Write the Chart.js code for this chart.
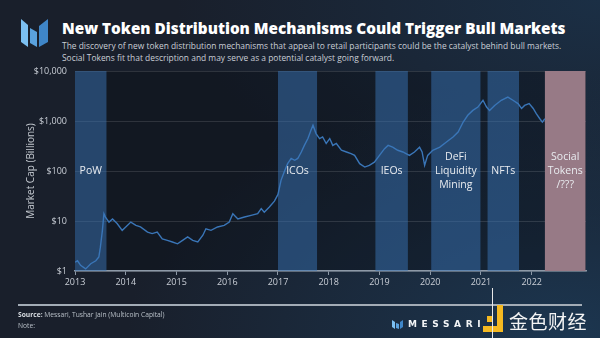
<!DOCTYPE html>
<html><head><meta charset="utf-8">
<script src="https://cdn.jsdelivr.net/npm/chart.js@4.4.1/dist/chart.umd.min.js"></script>
<style>
html,body{margin:0;padding:0;}
body{width:600px;height:338px;overflow:hidden;position:relative;
 background:radial-gradient(ellipse at 95% 100%, #1c3650 0%, rgba(28,54,80,0) 55%),
            radial-gradient(ellipse at 100% 0%, #1b2f45 0%, rgba(27,47,69,0) 50%),
            #191f2b;
 font-family:'Open Sans',sans-serif;color:#fff;}
#c{position:absolute;left:0;top:0;width:600px;height:338px;}
.abs{position:absolute;white-space:nowrap;}
#title{left:62px;top:18px;font-size:17px;font-weight:800;line-height:20px;color:#fff;font-family:'Open Sans',sans-serif;}
#sub{left:62px;top:40px;font-size:9.5px;line-height:11.5px;color:#c9ced6;font-weight:400;}
#footline{left:18px;top:304px;width:564px;height:1.5px;background:#a3acb6;}
#src{left:18px;top:311px;font-size:6.7px;color:#b9c0c8;line-height:8px;}
#note{left:18px;top:322px;font-size:6.7px;color:#b9c0c8;line-height:8px;}
#messari{left:408px;top:318px;font-size:9px;font-weight:800;letter-spacing:4.6px;color:#f2f4f6;font-family:'DejaVu Sans',sans-serif;line-height:12px;}
#jinse{left:509px;top:309px;font-size:19px;color:#f4f4f4;font-family:'Noto Sans CJK SC',sans-serif;line-height:24px;letter-spacing:0.5px;}
#vline{left:492px;top:288px;width:1px;height:50px;background:#e8e8e8;}
</style></head><body>
<svg class="abs" style="left:0;top:0" width="60" height="60">
 <polygon points="21,19 28,25 28,47 21,42" fill="#7cc0f2"/>
 <polygon points="30,28 37,32 37,47 30,43" fill="#5aa2de"/>
 <polygon points="39,26 48,19 48,42 39,47" fill="#3f86c8"/>
</svg>
<div id="title" class="abs"><span id="titleSpan">New Token Distribution Mechanisms Could Trigger Bull Markets</span></div>
<div id="sub" class="abs"><span id="sub1">The discovery of new token distribution mechanisms that appeal to retail participants could be the catalyst behind bull markets.</span><br><span>Social Tokens fit that description and may serve as a potential catalyst going forward.</span></div>
<canvas id="c" width="600" height="338"></canvas>
<div id="footline" class="abs"></div>
<div id="src" class="abs"><b style="color:#d8dde2">Source:</b> Messari, Tushar Jain (Multicoin Capital)</div>
<div id="note" class="abs">Note:</div>
<svg class="abs" style="left:392px;top:319px" width="12" height="10">
 <polygon points="0,1 3,3 3,10 0,8" fill="#7cc0f2"/>
 <polygon points="4,4 7,5 7,10 4,9" fill="#5aa2de"/>
 <polygon points="8,3 11,1 11,8 8,10" fill="#3f86c8"/>
</svg>
<div id="messari" class="abs">MESSARI</div>
<svg class="abs" style="left:482px;top:304px" width="24" height="30">
 <rect x="15" y="1" width="6" height="27" fill="#f5b921"/>
 <rect x="1" y="22" width="20" height="6" fill="#f5b921"/>
 <rect x="5" y="12" width="6" height="6" fill="#f5b921"/>
</svg>
<div id="vline" class="abs"></div>
<div id="jinse" class="abs">金色财经</div>
<script>
// ---- data ----
const years = [2013.00,2013.05,2013.11,2013.21,2013.31,2013.41,2013.47,2013.50,2013.54,2013.57,2013.60,2013.67,2013.74,2013.83,2013.93,
 2014.00,2014.10,2014.20,2014.29,2014.43,2014.52,2014.62,2014.72,2014.82,2014.92,
 2015.02,2015.12,2015.22,2015.32,2015.42,2015.52,2015.58,2015.68,2015.81,2015.94,
 2016.04,2016.11,2016.21,2016.34,2016.47,2016.60,2016.67,2016.73,2016.83,2016.93,
 2017.00,2017.06,2017.13,2017.19,2017.26,2017.33,2017.39,2017.46,2017.52,2017.59,2017.65,2017.69,2017.75,2017.82,2017.88,2017.95,
 2018.02,2018.08,2018.15,2018.25,2018.35,2018.44,2018.51,2018.61,2018.71,2018.80,2018.90,
 2019.00,2019.10,2019.17,2019.26,2019.36,2019.46,2019.59,2019.69,2019.79,2019.84,2019.89,2019.95,
 2020.05,2020.19,2020.32,2020.45,2020.55,2020.65,2020.74,2020.84,2020.94,
 2021.04,2021.11,2021.17,2021.27,2021.40,2021.53,2021.63,2021.73,2021.80,2021.86,2021.95,
 2022.03,2022.09,2022.16,2022.21,2022.26];
const marketCap = [1.5,1.6,1.3,1.1,1.4,1.6,1.9,3.0,6.5,14,12,9.5,11,8.9,6.5,
 7.6,9.5,8.2,7.6,6.0,5.6,6.0,4.4,4.1,3.8,
 3.5,4.1,4.8,4.1,3.8,5.2,7.0,6.5,7.6,8.2,
 9.5,14,11,12,13,14,17.7,15,19,25,
 34,65,100,140,178,164,178,240,325,445,650,820,560,445,480,355,
 445,325,355,260,240,222,205,140,120,130,150,
 205,280,325,300,260,240,205,240,300,240,130,205,
 260,300,380,480,600,955,1300,1630,1900,
 2600,1900,1630,2050,2600,3000,2600,2230,1780,2050,2230,
 1780,1400,1110,950,1110];
const xTickLabels = ['2013','2014','2015','2016','2017','2018','2019','2020','2021','2022'];
const yTickValues = [1,10,100,1000,10000];
const yTickLabels = ['$1','$10','$100','$1,000','$10,000'];
const bandStarts = [2013.00,2017.00,2018.92,2020.02,2021.13,2022.26];
const bandEnds   = [2013.62,2017.77,2019.56,2020.99,2021.75,2023.06];
const bandLabels = [['PoW'],['ICOs'],['IEOs'],['DeFi','Liquidity','Mining'],['NFTs'],['Social','Tokens','/???']];
const bandColors = ['rgba(58,118,184,0.5)','rgba(58,118,184,0.5)','rgba(58,118,184,0.5)','rgba(58,118,184,0.5)','rgba(58,118,184,0.5)','#977a86'];
const yAxisTitle = 'Market Cap (Billions)';

// fit header text widths
function fit(id, target){const el=document.getElementById(id);const p=el.parentElement;const fs=parseFloat(getComputedStyle(p).fontSize);const w=el.getBoundingClientRect().width;p.style.fontSize=(fs*target/w)+'px';}
fit('titleSpan',504); fit('sub1',500);

const bgPlugin = {
 id:'bg',
 beforeDraw(chart){const {ctx,chartArea:a}=chart;ctx.save();ctx.fillStyle='rgba(6,10,16,0.32)';ctx.fillRect(a.left,a.top,a.right-a.left,a.bottom-a.top);ctx.restore();},
 beforeDatasetsDraw(chart){const {ctx,chartArea:a,scales:{x}}=chart;ctx.save();
  bandStarts.forEach((s,i)=>{const x0=x.getPixelForValue(s),x1=x.getPixelForValue(bandEnds[i]);ctx.fillStyle=bandColors[i];ctx.fillRect(x0,a.top,x1-x0,a.bottom-a.top);});
  ctx.restore();},
 afterDatasetsDraw(chart){const {ctx,scales:{x,y}}=chart;ctx.save();
  ctx.fillStyle='#e9ecf0';ctx.font='10.5px "Open Sans"';ctx.textAlign='center';ctx.textBaseline='middle';
  const yc=y.getPixelForValue(100);
  bandLabels.forEach((lines,i)=>{const xc=(x.getPixelForValue(bandStarts[i])+x.getPixelForValue(bandEnds[i]))/2;
   lines.forEach((t,j)=>ctx.fillText(t,xc,yc+(j-(lines.length-1)/2)*14));});
  ctx.translate(31,(chart.chartArea.top+chart.chartArea.bottom)/2);ctx.rotate(-Math.PI/2);
  ctx.font='10px "Open Sans"';ctx.fillStyle='#c3c8cf';ctx.fillText(yAxisTitle,0,0);
  ctx.restore();}
};

new Chart(document.getElementById('c'),{
 type:'line',
 data:{datasets:[{data:years.map((v,i)=>({x:v,y:marketCap[i]})),borderColor:'#3a76b8',borderWidth:1.4,pointRadius:0,tension:0,fill:false}]},
 options:{responsive:false,animation:false,devicePixelRatio:1,
  layout:{padding:{left:0,right:14,top:71,bottom:47}},
  plugins:{legend:{display:false},tooltip:{enabled:false}},
  scales:{
   x:{type:'linear',min:2013,max:2023.07,
    afterBuildTicks(s){s.ticks=xTickLabels.map(l=>({value:+l}));},
    afterFit(s){s.height=20;},
    ticks:{autoSkip:false,maxRotation:0,padding:2,color:'#c9ced6',font:{size:9,family:'Open Sans'},callback:(v,i)=>xTickLabels[i]},
    grid:{drawOnChartArea:false,drawTicks:true,tickLength:4,color:'#8d99a7',lineWidth:1},
    border:{color:'#8d99a7',width:1.5}},
   y:{type:'logarithmic',min:1,max:10000,
    afterBuildTicks(s){s.ticks=yTickValues.map(v=>({value:v}));},
    afterFit(s){s.width=75;},
    ticks:{padding:8,color:'#c9ced6',font:{size:9,family:'Open Sans'},callback:(v,i)=>yTickLabels[i]},
    grid:{drawTicks:false,color:'rgba(255,255,255,0.12)',lineWidth:1},
    border:{display:false}}
  }},
 plugins:[bgPlugin]
});
</script>
</body></html>
